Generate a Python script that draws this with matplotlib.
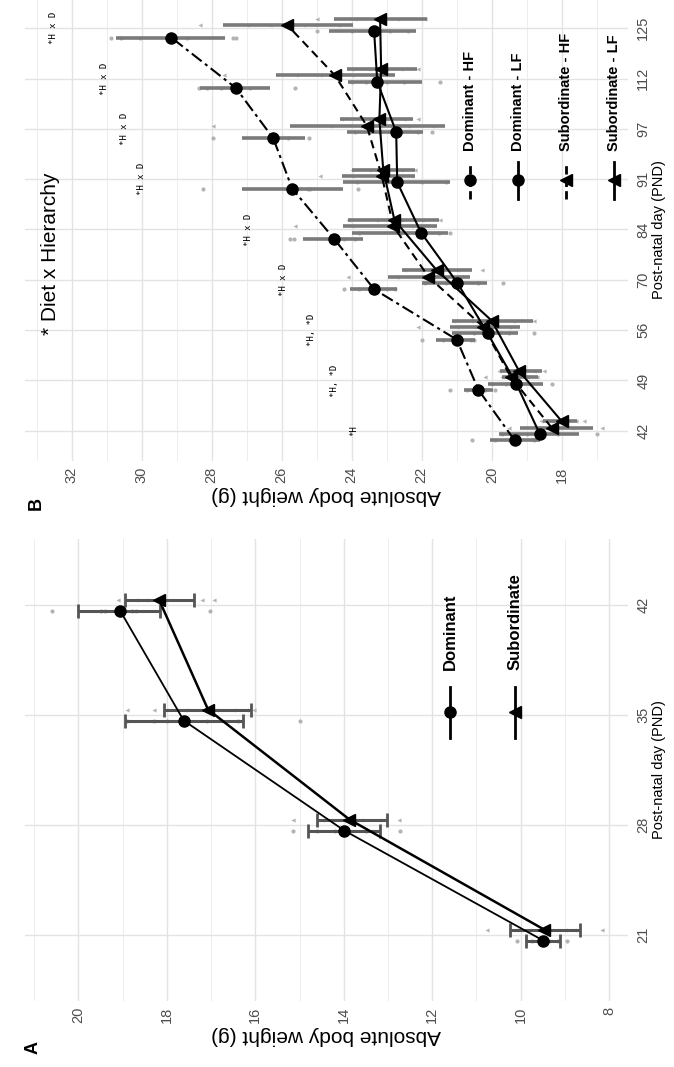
import matplotlib
matplotlib.use("Agg")
import matplotlib.pyplot as plt
from matplotlib.ticker import MultipleLocator

plt.rcParams['font.family'] = ['Liberation Sans', 'DejaVu Sans']

# ---------------- panel A: hierarchy only ----------------
pnd_a = ["21", "28", "35", "42"]
dom_a_mean = [9.49, 13.99, 17.62, 19.06]
dom_a_lo = [9.10, 13.18, 16.29, 18.15]
dom_a_hi = [9.87, 14.80, 18.95, 20.00]
sub_a_mean = [9.47, 13.87, 17.07, 18.18]
sub_a_lo = [8.65, 13.02, 16.10, 17.38]
sub_a_hi = [10.25, 14.61, 18.06, 18.95]
dom_a_pts = [[10.07, 9.75, 9.55, 9.35, 9.15, 8.95],
             [15.14, 14.6, 14.2, 13.9, 13.5, 12.72],
             [18.9, 18.3, 18.0, 17.1, 16.4, 15.0],
             [20.6, 19.5, 19.4, 19.0, 18.8, 18.7, 17.02]]
sub_a_pts = [[10.76, 10.1, 9.8, 9.4, 9.0, 8.8, 8.16],
             [15.15, 14.5, 14.0, 13.6, 13.2, 12.76],
             [18.9, 18.3, 17.6, 16.9, 16.5, 16.2, 16.04],
             [19.1, 18.7, 18.5, 17.2, 16.93]]

# ---------------- panel B: diet x hierarchy ----------------
pnd_b = ["42", "49", "56", "70", "84", "91", "97", "112", "125"]
domhf_mean = [19.35, 20.38, 21.0, 23.36, 24.5, 25.70, 26.24, 27.31, 29.15]
domhf_lo = [18.62, 19.96, 20.48, 22.71, 23.67, 24.26, 25.33, 26.33, 27.62]
domhf_hi = [20.05, 20.8, 21.6, 24.05, 25.4, 27.14, 27.14, 28.33, 30.73]
domlf_mean = [18.63, 19.3, 20.12, 20.98, 22.02, 22.70, 22.73, 23.27, 23.36]
domlf_lo = [17.5, 18.53, 19.24, 20.14, 21.25, 21.19, 21.95, 22.0, 22.16]
domlf_hi = [19.8, 20.1, 21.14, 22.0, 24.0, 24.26, 24.14, 24.1, 24.65]
subhf_mean = [18.29, 19.45, 20.24, 21.81, 22.81, 23.14, 23.57, 24.48, 25.84]
subhf_lo = [17.1, 18.67, 19.19, 20.62, 21.57, 22.19, 21.33, 22.76, 23.95]
subhf_hi = [19.2, 19.71, 21.19, 22.95, 24.26, 24.29, 25.76, 26.16, 27.67]
sublf_mean = [18.0, 19.22, 20.0, 21.57, 22.78, 23.10, 23.21, 23.16, 23.19]
sublf_lo = [17.56, 18.57, 18.81, 20.57, 21.52, 22.19, 22.24, 22.14, 21.86]
sublf_hi = [18.55, 19.76, 21.14, 22.57, 24.1, 24.0, 24.33, 24.14, 24.52]

domhf_pts = [[20.57, 19.9, 19.5, 19.2, 18.8], [21.19, 20.7, 20.4, 20.2, 19.9],
             [22.0, 21.4, 21.0, 20.6, 20.5], [24.21, 23.8, 23.0, 22.76],
             [25.76, 25.65, 24.21, 23.9], [28.24, 25.25, 25.2, 23.81],
             [27.95, 25.81, 25.21], [28.35, 28.14, 27.73, 26.9, 25.62],
             [30.86, 30.6, 30.05, 28.7, 27.4, 27.3]]
domlf_pts = [[19.7, 19.0, 18.6, 18.1, 17.0], [20.0, 19.6, 19.3, 18.9, 18.29],
             [21.0, 20.5, 20.0, 19.5, 18.79], [21.9, 21.3, 20.9, 20.4, 19.69],
             [23.8, 22.6, 22.0, 21.5, 21.19], [23.84, 23.0, 22.6, 22.0, 21.3],
             [23.9, 23.2, 22.6, 22.1, 21.71], [24.0, 23.6, 23.0, 22.5, 21.48],
             [25.0, 24.0, 23.5, 22.9, 22.4]]
subhf_pts = [[19.5, 18.6, 18.2, 17.7, 16.86], [20.2, 19.7, 19.3, 19.0, 18.7],
             [22.1, 21.0, 20.5, 20.0, 19.5], [24.1, 22.7, 22.0, 21.3, 20.9],
             [25.62, 24.0, 23.0, 22.3, 21.7], [24.9, 24.0, 23.3, 22.7, 22.3],
             [27.95, 24.62, 23.8, 23.2, 22.4, 21.7], [27.65, 25.6, 24.9, 24.0, 23.3],
             [28.33, 27.0, 26.33, 25.4, 25.05, 24.4]]
sublf_pts = [[18.6, 18.3, 17.9, 17.6, 17.38], [19.8, 19.5, 19.2, 18.8, 18.5],
             [21.1, 20.6, 20.0, 19.4, 18.8], [22.5, 22.0, 21.5, 21.0, 20.29],
             [24.1, 23.3, 22.6, 22.0, 21.48], [24.0, 23.5, 23.0, 22.6, 22.2],
             [24.3, 23.7, 23.0, 22.5, 22.1], [24.0, 23.5, 23.0, 22.6, 22.1],
             [25.0, 23.9, 23.3, 22.7, 21.9]]

ann_labels = ["*H", "*H, *D", "*H, *D", "*H x D", "*H x D",
              "*H x D", "*H x D", "*H x D", "*H x D"]
ann_weight = [23.95, 24.48, 25.14, 25.96, 26.96, 30.0, 30.48, 31.05, 32.53]

# figure is drawn already turned a quarter turn: weight runs right-to-left,
# post-natal day runs bottom-to-top, every text is rotated accordingly
fig = plt.figure(figsize=(6.74, 10.67), dpi=100)
W, H = 674.0, 1067.0
ax_b = fig.add_axes([25 / W, 1 - 461 / H, 603 / W, 463 / H])
ax_a = fig.add_axes([25 / W, 1 - 1001 / H, 603 / W, 462 / H])

tick_col = '#4D4D4D'
pt_col = '#B3B3B3'


def style_axis(ax, xlim, labels):
    ax.set_xlim(*xlim)
    ax.set_ylim(-0.6, len(labels) - 0.4)
    ax.xaxis.set_major_locator(MultipleLocator(2))
    ax.xaxis.set_minor_locator(MultipleLocator(1))
    ax.set_yticks(range(len(labels)))
    ax.set_yticklabels(labels)
    ax.yaxis.tick_right()
    ax.grid(which='major', color='#E3E3E3', lw=1.0, zorder=0)
    ax.grid(which='minor', axis='x', color='#EDEDED', lw=0.7, zorder=0)
    ax.set_axisbelow(True)
    for s in ax.spines.values():
        s.set_visible(False)
    ax.tick_params(which='both', length=0, labelsize=10.5, labelcolor=tick_col)
    ax.tick_params(axis='x', labelrotation=90, pad=4)
    ax.tick_params(axis='y', labelrotation=90, pad=6)
    for t in ax.get_yticklabels():
        t.set_va('center')
    ax.set_xlabel('Absolute body weight (g)', rotation=180, fontsize=15, labelpad=2)
    ax.yaxis.set_label_position('right')
    ax.set_ylabel('Post-natal day (PND)', rotation=90, fontsize=10.5, labelpad=1)


def draw_group(ax, mean, lo, hi, pts, off, marker, ls, lw, ms, bar_kw):
    pos = [i + off for i in range(len(mean))]
    for i, vals in enumerate(pts):
        ax.scatter(vals, [pos[i]] * len(vals), s=9, color=pt_col,
                   marker='o' if marker == 'o' else '<', lw=0, zorder=2)
    xerr = [[m - l for m, l in zip(mean, lo)], [h - m for m, h in zip(mean, hi)]]
    ax.errorbar(mean, pos, xerr=xerr, fmt='none', zorder=3, **bar_kw)
    ax.plot(mean, pos, color='black', lw=lw, ls=ls, zorder=4)
    ax.plot(mean, pos, color='black', lw=0, marker=marker, ms=ms, zorder=5)


def legend_key(ax, x, y0, y1, marker, ls, label, size, ty):
    ax.plot([x, x], [y0, y1], transform=ax.transAxes, color='black', lw=2,
            ls=ls, clip_on=False, zorder=6)
    ax.plot([x], [(y0 + y1) / 2], transform=ax.transAxes, color='black',
            marker=marker, ms=8, clip_on=False, zorder=7)
    ax.text(x, ty, label, transform=ax.transAxes, rotation=90, ha='center',
            va='bottom', fontsize=size, fontweight='bold')


# ---- panel A ----
style_axis(ax_a, (21.21, 7.57), pnd_a)
bar_a = dict(ecolor='#555555', elinewidth=2.2, capsize=5, capthick=2)
draw_group(ax_a, dom_a_mean, dom_a_lo, dom_a_hi, dom_a_pts, -0.05, 'o', '-', 1.3, 8, bar_a)
draw_group(ax_a, sub_a_mean, sub_a_lo, sub_a_hi, sub_a_pts, 0.05, '<', '-', 1.8, 9, bar_a)
legend_key(ax_a, 0.705, 0.569, 0.680, 'o', '-', 'Dominant', 12, 0.716)
legend_key(ax_a, 0.8126, 0.569, 0.680, '<', '-', 'Subordinate', 12, 0.716)

# ---- panel B ----
style_axis(ax_b, (33.33, 16.11), pnd_b)
bar_b = dict(ecolor='#7A7A7A', elinewidth=2.6, capsize=0)
dashdot = (0, (6, 2, 1.5, 2))
dashed = (0, (4, 2.5))
draw_group(ax_b, domhf_mean, domhf_lo, domhf_hi, domhf_pts, -0.1875, 'o', dashdot, 1.5, 8, bar_b)
draw_group(ax_b, domlf_mean, domlf_lo, domlf_hi, domlf_pts, -0.0625, 'o', '-', 1.5, 8, bar_b)
draw_group(ax_b, subhf_mean, subhf_lo, subhf_hi, subhf_pts, 0.0625, '<', dashed, 1.5, 9, bar_b)
draw_group(ax_b, sublf_mean, sublf_lo, sublf_hi, sublf_pts, 0.1875, '<', '-', 1.5, 9, bar_b)
legend_key(ax_b, 0.738, 0.566, 0.646, 'o', (0, (3, 1.5)), 'Dominant - HF', 10.5, 0.67)
legend_key(ax_b, 0.8176, 0.566, 0.646, 'o', '-', 'Dominant - LF', 10.5, 0.67)
legend_key(ax_b, 0.897, 0.566, 0.646, '<', (0, (3, 1.5)), 'Subordinate - HF', 10.5, 0.67)
legend_key(ax_b, 0.977, 0.566, 0.646, '<', '-', 'Subordinate - LF', 10.5, 0.67)

for i, (lab, w) in enumerate(zip(ann_labels, ann_weight)):
    ax_b.text(w, i, lab, rotation=90, ha='center', va='center', fontsize=6.5,
              family=['DejaVu Sans Mono'])
ax_b.text(0.0415, 0.447, '* Diet x Hierarchy', transform=ax_b.transAxes,
          rotation=90, ha='center', va='center', fontsize=15)

fig.text(33 / W, 1 - 1048 / H, 'A', rotation=90, ha='center', va='center',
         fontsize=13, fontweight='bold')
fig.text(36 / W, 1 - 503 / H, 'B', rotation=90, ha='center', va='center',
         fontsize=13, fontweight='bold')

fig.savefig('out.png', dpi=100)
